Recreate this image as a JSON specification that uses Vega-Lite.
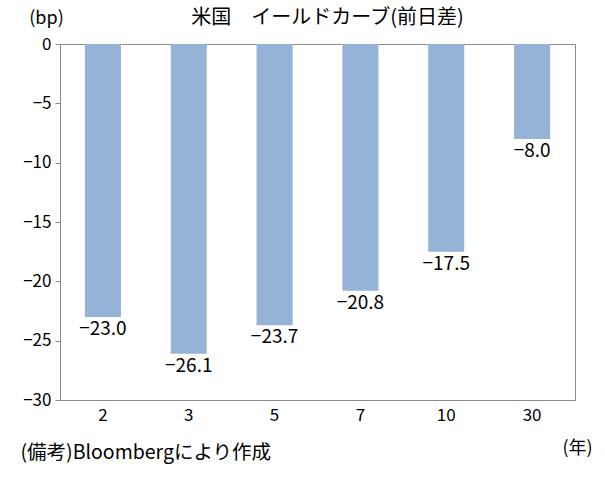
{
  "$schema": "https://vega.github.io/schema/vega-lite/v6.json",
  "autosize": {"type": "none"},
  "width": 515,
  "height": 356,
  "padding": {"left": 60, "top": 44, "right": 30, "bottom": 78},
  "background": "white",
  "config": {
    "font": "Noto Sans CJK JP",
    "view": {"stroke": "#8c8c8c", "strokeWidth": 1},
    "axis": {"labelFont": "Noto Sans CJK JP", "titleFont": "Noto Sans CJK JP", "labelColor": "black", "titleColor": "black", "labelFontSize": 17, "titleFontSize": 18, "titleFontWeight": "normal", "grid": false}
  },
  "title": {"text": "米国　イールドカーブ(前日差)", "fontSize": 20, "fontWeight": "normal", "color": "black", "anchor": "middle", "offset": -19, "dx": 10},
  "data": {"values": [
    {"year": "2", "change": -23.0},
    {"year": "3", "change": -26.1},
    {"year": "5", "change": -23.7},
    {"year": "7", "change": -20.8},
    {"year": "10", "change": -17.5},
    {"year": "30", "change": -8.0}
  ]},
  "encoding": {
    "x": {"field": "year", "type": "ordinal", "sort": null,
      "scale": {"paddingInner": 0.58, "paddingOuter": 0.29},
      "axis": {"labelAngle": 0, "ticks": false, "domain": false, "labelPadding": 7,
        "title": "(備考)Bloombergにより作成", "titleFontSize": 19.5, "titleAnchor": "start", "titleAlign": "left", "titleBaseline": "middle", "titleX": -40, "titleY": 52}}
  },
  "layer": [
    {
      "mark": {"type": "bar", "color": "#95B3D7"},
      "encoding": {
        "y": {"field": "change", "type": "quantitative",
          "scale": {"domain": [-30, 0], "nice": false},
          "axis": {"values": [0, -5, -10, -15, -20, -25, -30], "tickColor": "#8c8c8c", "domainColor": "#8c8c8c", "tickSize": 5, "labelPadding": 4,
            "title": "(bp)", "titleAngle": 0, "titleAlign": "center", "titleBaseline": "middle", "titleX": -14, "titleY": -26}},
        "y2": {"datum": 0}
      }
    },
    {
      "mark": {"type": "text", "baseline": "middle", "align": "center", "dy": 12, "fontSize": 19, "color": "black"},
      "encoding": {
        "y": {"field": "change", "type": "quantitative",
          "scale": {"domain": [-30, 0], "nice": false},
          "axis": {"orient": "right", "labels": false, "ticks": false, "domain": false,
            "title": "(年)", "titleAngle": 0, "titleAlign": "center", "titleBaseline": "middle", "titleX": 2, "titleY": 404}},
        "text": {"field": "change", "type": "quantitative", "format": ".1f"}
      }
    }
  ],
  "resolve": {"scale": {"y": "independent"}, "axis": {"y": "independent"}}
}
